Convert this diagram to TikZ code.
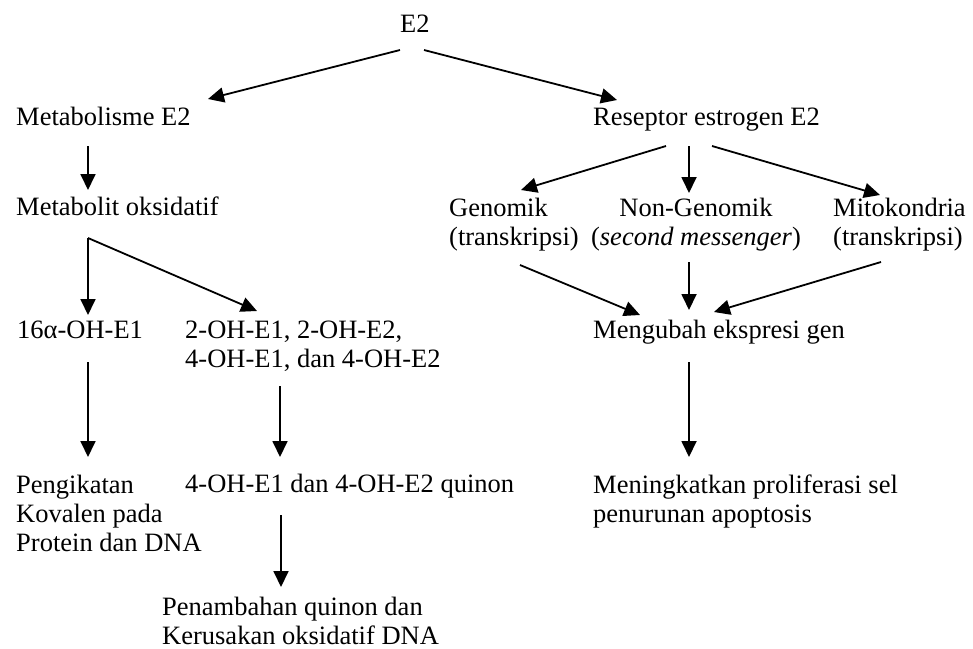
\documentclass[tikz,border=0pt]{standalone}
\usepackage{fontspec}
\setmainfont{Liberation Serif}
\usetikzlibrary{arrows.meta}

\tikzset{
  lbl/.style={anchor=base west, inner sep=0pt, align=left},
  arr/.style={-{Triangle[length=16pt,width=15pt]}, line width=1.8pt},
}

\begin{document}
\begin{tikzpicture}[x=1pt, y=-1pt, font=\fontsize{26.5}{29}\selectfont]
  \useasboundingbox (0,0) rectangle (973,648);
  % top (base of a multi-line node = its last line)
  \node[lbl] (e2) at (400,32) {E2};
  % left branch: metabolism
  \node[lbl] (met) at (16,125) {Metabolisme E2};
  \node[lbl] (oks) at (16,215) {Metabolit oksidatif};
  \node[lbl] (a16) at (17,338) {16α-OH-E1};
  \node[lbl] (hyd) at (185,367) {2-OH-E1, 2-OH-E2,\\4-OH-E1, dan 4-OH-E2};
  \node[lbl] (kov) at (16,551) {Pengikatan\\Kovalen pada\\Protein dan DNA};
  \node[lbl] (quin) at (185,492) {4-OH-E1 dan 4-OH-E2 quinon};
  \node[lbl] (dna) at (162,644) {Penambahan quinon dan\\Kerusakan oksidatif DNA};
  % right branch: receptor
  \node[lbl] (res) at (593,125) {Reseptor estrogen E2};
  \node[lbl] (gen) at (449,245) {Genomik\\(transkripsi)};
  \node[lbl, anchor=base, align=center] (ngen) at (696,245) {Non-Genomik\\(\textit{second messenger})};
  \node[lbl] (mito) at (833,245) {Mitokondria\\(transkripsi)};
  \node[lbl] (ubah) at (593,338) {Mengubah ekspresi gen};
  \node[lbl] (pro) at (593,522) {Meningkatkan proliferasi sel\\penurunan apoptosis};

  % arrows
  \draw[arr] ([shift={(0,18)}]e2.base west) -- ([shift={(192,-26)}]met.base west);
  \draw[arr] ([shift={(24,18)}]e2.base west) -- ([shift={(24,-25)}]res.base west);
  \draw[arr] ([shift={(72,21)}]met.base west) -- ([shift={(72,-25)}]oks.base west);
  \draw[arr] ([shift={(72,23)}]oks.base west) -- ([shift={(71,-23)}]a16.base west);
  \draw[arr] ([shift={(72,23)}]oks.base west) -- ([shift={(72,-56)}]hyd.base west);
  \draw[arr] ([shift={(71,24)}]a16.base west) -- ([shift={(72,-94)}]kov.base west);
  \draw[arr] ([shift={(95,19)}]hyd.base west) -- ([shift={(95,-35)}]quin.base west);
  \draw[arr] ([shift={(96,23)}]quin.base west) -- ([shift={(119,-57)}]dna.base west);
  \draw[arr] ([shift={(73,21)}]res.base west) -- ([shift={(72,-55)}]gen.base west);
  \draw[arr] ([shift={(96,21)}]res.base west) -- ([shift={(-7,-52)}]ngen.base);
  \draw[arr] ([shift={(119,21)}]res.base west) -- ([shift={(47,-50)}]mito.base west);
  \draw[arr] ([shift={(71,20)}]gen.base west) -- ([shift={(47,-23)}]ubah.base west);
  \draw[arr] ([shift={(-7,17)}]ngen.base) -- ([shift={(96,-28)}]ubah.base west);
  \draw[arr] ([shift={(48,17)}]mito.base west) -- ([shift={(121,-26)}]ubah.base west);
  \draw[arr] ([shift={(96,24)}]ubah.base west) -- ([shift={(96,-65)}]pro.base west);
\end{tikzpicture}
\end{document}
